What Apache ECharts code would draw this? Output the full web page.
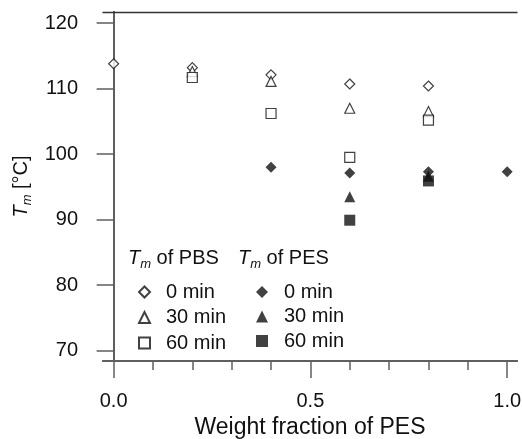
<!DOCTYPE html>
<html>
<head>
<meta charset="utf-8">
<script src="https://cdn.jsdelivr.net/npm/echarts@6/dist/echarts.min.js"></script>
<style>
  html, body { margin: 0; padding: 0; background: #fff; }
  #chart { width: 522px; height: 439px; }
</style>
</head>
<body>
<div id="chart"></div>
<script>
// weight fraction of PES and measured Tm
const pbs0 = [[0, 113.8], [0.2, 113.2], [0.4, 112.1], [0.6, 110.7], [0.8, 110.4]];
const pbs30 = [[0.2, 112.6], [0.4, 111.1], [0.6, 107.0], [0.8, 106.5]];
const pbs60 = [[0.2, 111.7], [0.4, 106.2], [0.6, 99.5], [0.8, 105.2]];
const pes0 = [[0.4, 98.0], [0.6, 97.1], [0.8, 97.3], [1.0, 97.3]];
const pes30 = [[0.6, 93.5], [0.8, 96.6]];
const pes60 = [[0.6, 89.9], [0.8, 95.9]];

const xMajorTicks = [0, 0.5, 1.0];
const xMinorTicks = [0, 0.1, 0.2, 0.3, 0.4, 0.5, 0.6, 0.7, 0.8, 0.9, 1.0];
const yTicks = [70, 80, 90, 100, 110, 120];

const FONT = 'Liberation Sans, Arial, sans-serif';
const axisColor = '#5f5f5f';
const ink = '#111';

const chart = echarts.init(document.getElementById('chart'));

const openStyle = { color: '#fff', borderColor: ink, borderWidth: 1.2 };
const fillStyle = { color: ink, borderColor: ink, borderWidth: 0 };

function scatter(name, data, symbol, size, style) {
  return {
    name: name, type: 'scatter', data: data,
    symbol: symbol, symbolSize: size,
    itemStyle: style,
    emphasis: { disabled: true },
    xAxisIndex: 0, yAxisIndex: 0
  };
}

function legendBox(left, names, icon) {
  return {
    orient: 'vertical', left: left, top: 277,
    data: names, itemWidth: icon, itemHeight: icon, itemGap: 16.5 - icon,
    selectedMode: false,
    formatter: n => n.split(' ').slice(1).join(' '),
    textStyle: { fontFamily: FONT, fontSize: 20, color: ink, lineHeight: 20, padding: [0, 0, 0, 11] }
  };
}

const titleRich = {
  t: { fontFamily: FONT, fontSize: 20, fontStyle: 'italic', fill: ink },
  s: { fontFamily: FONT, fontSize: 13, fontStyle: 'italic', fill: ink, padding: [12, 0, 0, 0] },
  n: { fontFamily: FONT, fontSize: 20, fill: ink }
};

chart.setOption({
  animation: false,
  grid: { left: 103, right: 5, top: 12, bottom: 78, outerBoundsMode: 'none' },
  xAxis: [
    {
      type: 'value', min: -0.027, max: 1.025, position: 'bottom',
      axisLine: { lineStyle: { color: axisColor, width: 2 } },
      axisTick: { customValues: xMinorTicks, length: 9, lineStyle: { color: axisColor, width: 1.5 } },
      axisLabel: { show: false }, splitLine: { show: false }
    },
    {
      type: 'value', min: -0.027, max: 1.025, position: 'bottom',
      axisLine: { lineStyle: { color: axisColor, width: 2 } },
      axisTick: { customValues: xMajorTicks, length: 17, lineStyle: { color: axisColor, width: 1.5 } },
      axisLabel: {
        customValues: xMajorTicks, margin: 30,
        formatter: v => v.toFixed(1),
        fontFamily: FONT, fontSize: 20, color: ink
      },
      splitLine: { show: false },
      name: 'Weight fraction of PES', nameLocation: 'middle', nameGap: 50,
      nameTextStyle: { fontFamily: FONT, fontSize: 23, color: ink }
    },
    {
      type: 'value', min: -0.027, max: 1.025, position: 'top',
      axisLine: { lineStyle: { color: '#333', width: 1.3 } },
      axisTick: { show: false }, axisLabel: { show: false }, splitLine: { show: false }
    }
  ],
  yAxis: [
    {
      type: 'value', min: 68.4, max: 121.7, position: 'left',
      axisLine: { show: true, lineStyle: { color: axisColor, width: 2 } },
      axisTick: { show: true, customValues: yTicks, length: 17, lineStyle: { color: axisColor, width: 1.5 } },
      axisLabel: { customValues: yTicks, margin: 25, fontFamily: FONT, fontSize: 20, color: ink },
      splitLine: { show: false },
      name: '{t|T}{s|m}{n| [°C]}', nameLocation: 'middle', nameGap: 68, nameRotate: 90,
      nameTextStyle: {
        rich: {
          t: { fontFamily: FONT, fontSize: 20, fontStyle: 'italic', color: ink },
          s: { fontFamily: FONT, fontSize: 13, fontStyle: 'italic', color: ink, padding: [12, 0, 0, 0] },
          n: { fontFamily: FONT, fontSize: 20, color: ink }
        }
      }
    },
    {
      type: 'value', min: 68.4, max: 121.7, position: 'right',
      axisLine: { show: true, lineStyle: { color: axisColor, width: 2 } },
      axisTick: { show: false }, axisLabel: { show: false }, splitLine: { show: false }
    }
  ],
  legend: [
    legendBox(133, ['PBS 0 min', 'PBS 30 min', 'PBS 60 min'], 11),
    legendBox(251, ['PES 0 min', 'PES 30 min', 'PES 60 min'], 12)
  ],
  graphic: [
    { type: 'text', left: 128, top: 248, style: { text: '{t|T}{s|m}{n| of PBS}', rich: titleRich } },
    { type: 'text', left: 238, top: 248, style: { text: '{t|T}{s|m}{n| of PES}', rich: titleRich } }
  ],
  series: [
    scatter('PBS 0 min', pbs0, 'diamond', 10, openStyle),
    scatter('PBS 30 min', pbs30, 'triangle', 10, openStyle),
    scatter('PBS 60 min', pbs60, 'rect', 10, openStyle),
    scatter('PES 0 min', pes0, 'diamond', 11, fillStyle),
    scatter('PES 30 min', pes30, 'triangle', 11, fillStyle),
    scatter('PES 60 min', pes60, 'rect', 11, fillStyle)
  ]
});
</script>
</body>
</html>
